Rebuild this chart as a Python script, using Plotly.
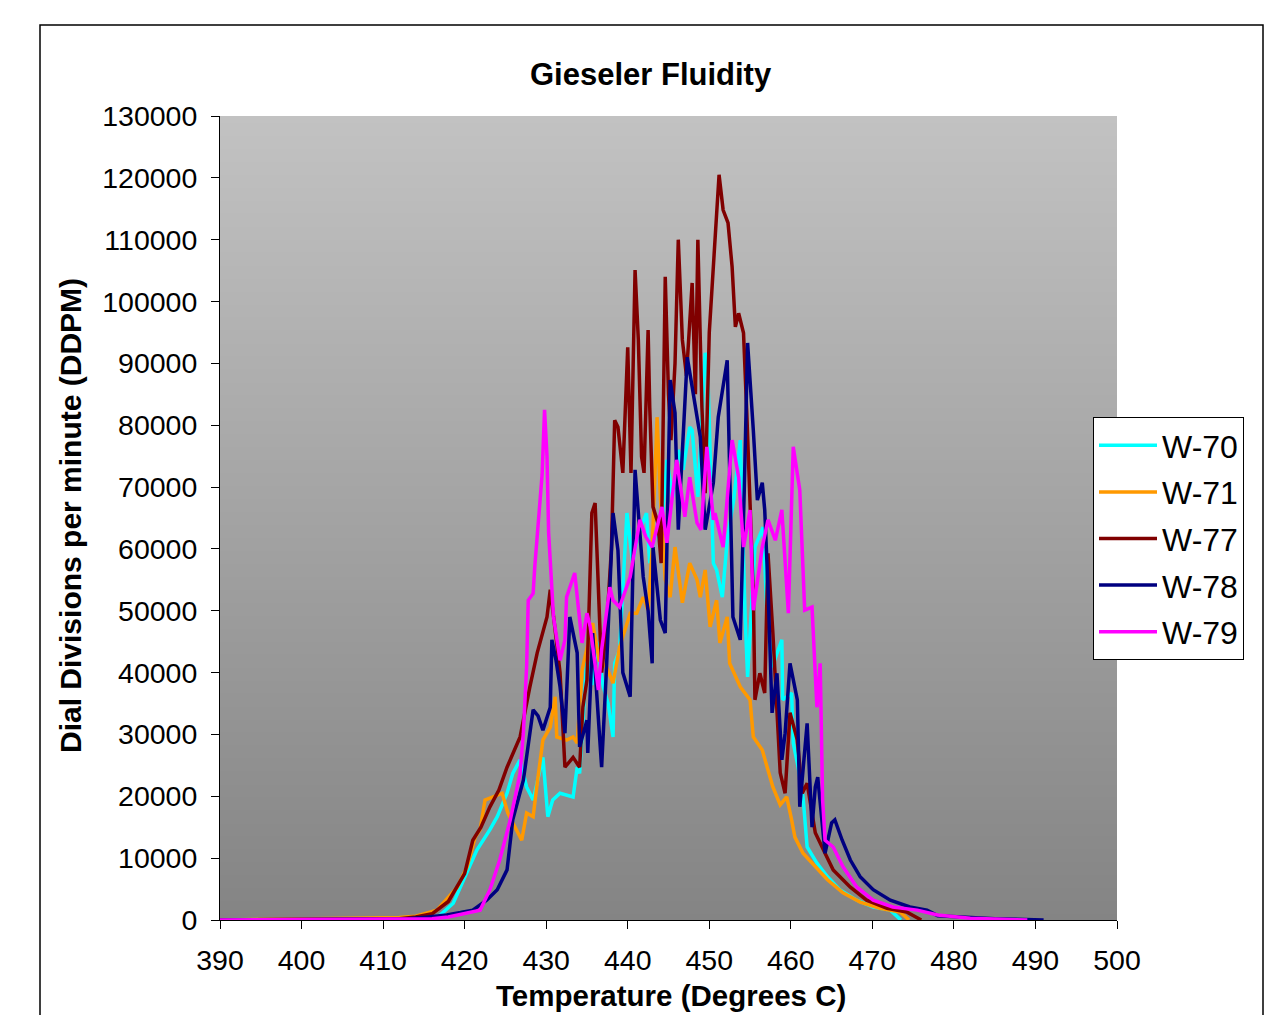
import plotly.graph_objects as go
import numpy as np

# ---------------- data ----------------
w70_t = [390, 410, 414, 416, 417, 418.6, 420.3, 421.5, 423.1, 424.0, 425.2, 425.9, 426.8, 427.6, 428.4, 429.6,
         430.2, 430.8, 431.7, 433.3, 433.8, 434.1, 435.0, 435.6, 436.2, 437.0, 437.6, 438.2, 438.4, 439.0, 439.9,
         440.6, 441.2, 442.3, 442.7, 443.4, 444.0, 444.8, 445.5, 446.2, 446.8, 447.6, 447.9, 448.6, 449.5, 449.8,
         450.5, 450.9, 451.6, 452.2, 453.0, 453.8, 454.4, 454.7, 455.6, 456.6, 457.1, 457.7, 458.9, 459.0, 460.1,
         460.3, 460.9, 461.5, 462.0, 463.2, 464.5, 466.0, 468.1, 470.1, 472.2, 473.5]
w70_v = [0, 0, 100, 300, 800, 2700, 7600, 11300, 14600, 16700, 20500, 23700, 25900, 21500, 19400, 26300,
         16700, 19400, 20500, 19900, 24700, 23700, 42500, 38000, 45000, 37700, 35000, 29600, 41500, 43700, 65800,
         57700, 62000, 65800, 57700, 63000, 61000, 74400, 68400, 76000, 72800, 79700, 79200, 68400, 91700, 89400,
         57700, 56600, 52200, 61400, 68000, 77600, 49000, 39300, 60300, 63500, 49000, 40900, 45300, 35600, 36700,
         28600, 24700, 19900, 11800, 9200, 7000, 4900, 3200, 2100, 1600, 0]

w71_t = [390, 410, 412, 414, 416.6, 419.1, 420.3, 421.3, 421.9, 422.5, 423.5, 424.6, 425.3, 426.2, 427.0, 427.6,
         428.4, 428.9, 429.6, 430.5, 431.1, 431.3, 432.5, 433.3, 433.8, 434.4, 435.0, 435.7, 436.5, 437.4, 438.2,
         439.0, 440.3, 441.1, 441.9, 442.5, 443.0, 443.6, 444.0, 444.6, 445.2, 445.8, 446.7, 447.6, 448.5, 448.9,
         449.5, 450.1, 450.9, 451.3, 452.2, 452.5, 453.8, 455.0, 455.4, 456.5, 457.1, 457.8, 458.7, 459.5, 460.1,
         460.5, 461.5, 463.0, 464.5, 466.4, 468.5, 470.9, 473.4, 474.5]
w71_v = [0, 300, 400, 600, 1600, 5300, 8600, 13400, 14600, 19400, 19900, 20500, 17300, 15000, 12900, 17300,
         16700, 22100, 29100, 31200, 36100, 29600, 29100, 29600, 28600, 40400, 44000, 48000, 42000, 40900, 38300,
         44100, 49600, 49600, 52200, 50100, 60000, 81300, 68400, 55000, 52200, 60300, 51300, 57700, 55000, 52200,
         56600, 47400, 51700, 44800, 49000, 41500, 37700, 35600, 29600, 27500, 24700, 21500, 18600, 19900, 16200,
         13400, 10800, 8600, 6500, 4400, 2900, 1900, 1300, 0]

w77_t = [390, 412, 414, 416, 418, 420, 421.0, 422, 423.1, 424.2, 425.2, 426.8, 428.0, 428.9, 430.1, 430.5, 431.0,
         431.7, 432.3, 433.3, 434.1, 434.5, 435.0, 435.6, 436.0, 436.4, 436.8, 437.4, 438.0, 438.4, 438.8, 439.4,
         440.0, 440.4, 440.9, 441.3, 441.7, 442.0, 442.5, 442.7, 443.1, 443.7, 444.1, 444.6, 445.0, 445.3, 445.8,
         446.2, 446.7, 447.2, 447.9, 448.3, 448.6, 449.1, 449.5, 450.0, 450.5, 451.2, 451.7, 452.3, 452.8, 453.2,
         453.6, 454.2, 454.6, 455.0, 455.4, 455.6, 456.2, 456.8, 457.2, 457.8, 458.7, 459.3, 459.9, 460.8, 461.4,
         462.0, 463.0, 464.2, 465.2, 467.3, 469.3, 471.8, 474.2, 476]
w77_v = [0, 200, 500, 1000, 3000, 7500, 12900, 15000, 18300, 21000, 24700, 29600, 37700, 43200, 49000, 53400, 48000,
         40000, 24700, 26300, 24700, 34400, 38800, 65800, 67400, 54500, 40000, 47000, 60000, 80800, 79700, 72300,
         92600, 72300, 105100, 93800, 74900, 72300, 95400, 82900, 66800, 64200, 57700, 104000, 85000, 77600, 90000,
         110000, 93800, 88000, 103000, 85000, 110000, 82900, 69000, 95000, 105600, 120500, 114800, 112700, 105600, 95900,
         98100, 94900, 82000, 66300, 52800, 35600, 39900, 36700, 59300, 46400, 23800, 20500, 33500, 29100, 20500,
         22100, 14100, 10800, 8100, 5300, 3200, 1900, 1300, 0]

w78_t = [390, 413, 415.5, 417.8, 419.5, 421.0, 422.7, 424.0, 425.2, 425.9, 427.2, 428.0, 428.4, 429.0, 429.6, 430.5,
         430.7, 431.2, 431.7, 432.3, 432.9, 433.8, 434.1, 435.0, 435.1, 435.7, 436.2, 436.8, 437.4, 438.2, 438.8,
         439.4, 440.3, 440.9, 441.9, 442.5, 443.0, 443.1, 444.0, 444.6, 445.2, 445.8, 446.2, 446.7, 447.3, 447.9,
         448.9, 449.5, 450.5, 451.1, 452.2, 452.9, 453.8, 454.3, 454.7, 455.4, 455.9, 456.5, 456.8, 457.2, 457.7,
         458.3, 458.9, 459.3, 459.9, 460.8, 461.1, 462.0, 462.6, 463.0, 463.3, 464.2, 465.0, 465.4, 466.3, 467.3,
         468.5, 470.1, 472.2, 474.6, 476.7, 478, 485, 491]
w78_v = [0, 200, 500, 800, 1200, 1600, 3200, 4900, 8100, 16200, 22600, 30200, 34000, 33000, 30700, 34400,
         45300, 42000, 37700, 30200, 49000, 43200, 28000, 32300, 27000, 46400, 36000, 24700, 40900, 65800, 59800,
         40000, 36100, 72800, 55500, 50000, 41500, 60300, 48500, 46400, 87300, 82000, 63100, 75000, 91000, 86200,
         78100, 63100, 70700, 81300, 90500, 49000, 45300, 70000, 93300, 79200, 67900, 70700, 66300, 53800, 33500,
         39900, 25900, 30200, 41500, 35600, 18300, 31800, 15000, 21500, 23100, 10800, 15700, 16200, 12900, 9700,
         7000, 4900, 3200, 2100, 1600, 700, 200, 0]

w79_t = [390, 414, 416, 418, 420, 421.9, 423.1, 424.3, 425.6, 426.8, 427.2, 427.6, 427.8, 428.4, 428.6, 429.2,
         429.5, 429.8, 430.1, 430.3, 430.6, 430.9, 431.7, 432.3, 432.5, 433.5, 434.4, 435.0, 435.4, 436.0, 436.4,
         436.8, 437.8, 438.2, 439.0, 440.3, 441.5, 442.2, 443.0, 444.2, 444.8, 446.0, 447.0, 447.6, 448.5, 449.0,
         449.7, 450.5, 450.7, 451.7, 452.8, 453.6, 454.2, 455.0, 455.4, 456.5, 457.2, 458.1, 458.9, 459.7, 460.3,
         461.1, 461.7, 462.6, 463.2, 463.6, 463.9, 464.2, 465.2, 466.4, 468.1, 470.1, 472.5, 475.5, 478, 482, 489]
w79_v = [0, 100, 200, 500, 1000, 1600, 4900, 9700, 16200, 23700, 30200, 40900, 51700, 52800, 57100, 67900,
         72000, 82500, 75000, 62600, 54500, 49000, 42000, 45300, 52200, 56100, 44800, 49600, 47400, 40900, 37200,
         43700, 53800, 51700, 50600, 55500, 64700, 62000, 60300, 66800, 61000, 74400, 65200, 71600, 64200, 63100,
         76500, 64700, 65800, 60300, 77600, 71600, 60300, 66300, 50100, 60300, 64700, 61400, 66300, 49600, 76500,
         69500, 50100, 50600, 34400, 41500, 19400, 12900, 11800, 8600, 5300, 3200, 2100, 1600, 800, 300, 0]

series_names = ["W-70", "W-71", "W-77", "W-78", "W-79"]
series_colors = ["#00FFFF", "#FF9900", "#800000", "#000080", "#FF00FF"]
series_t = [w70_t, w71_t, w77_t, w78_t, w79_t]
series_v = [w70_v, w71_v, w77_v, w78_v, w79_v]

x_ticks = [390, 400, 410, 420, 430, 440, 450, 460, 470, 480, 490, 500]
y_ticks = list(range(0, 130001, 10000))

FONT = "Liberation Sans, Arial, sans-serif"

fig = go.Figure()

# gradient plot-area background
bg_y = np.linspace(0, 130000, 60)
fig.add_trace(go.Heatmap(
    x=[390, 500], y=bg_y, z=[[v, v] for v in bg_y],
    colorscale=[[0, "#848484"], [1, "#c2c2c2"]], showscale=False,
    zsmooth="best", hoverinfo="skip", showlegend=False))

for i, (name, col, t, v) in enumerate(zip(series_names, series_colors, series_t, series_v)):
    fig.add_trace(go.Scatter(
        x=t, y=v, mode="lines", name=name, legendgroup=f"g{i}",
        line=dict(color=col, width=3.5)))

W, H = 1273, 1015
L, R, T, B = 220, 1117, 116, 920
pw, ph = R - L, B - T

def px(xp):
    return (xp - L) / pw

def py(yp):
    return (B - yp) / ph

fig.update_layout(
    width=W, height=H,
    margin=dict(l=L, r=W - R, t=T, b=H - B),
    paper_bgcolor="white",
    plot_bgcolor="#a0a0a0",
    font=dict(family=FONT, color="black"),
    showlegend=True,
    legend=dict(
        x=px(1093), y=py(417), xanchor="left", yanchor="top",
        bgcolor="white", bordercolor="black", borderwidth=1,
        font=dict(size=32, family=FONT), itemwidth=58,
        tracegroupgap=2),
    xaxis=dict(
        range=[390, 500], tickvals=x_ticks, ticktext=[str(v) for v in x_ticks],
        showgrid=False, zeroline=False, showline=True, linecolor="black", linewidth=1,
        ticks="outside", ticklen=8, tickcolor="black",
        tickfont=dict(size=28.5, family=FONT), ticklabelstandoff=7),
    yaxis=dict(
        range=[0, 130000], tickvals=y_ticks, ticktext=[str(v) for v in y_ticks],
        showgrid=True, gridcolor="#4a4a4a", gridwidth=2, zeroline=False,
        showline=True, linecolor="black", linewidth=1,
        ticks="outside", ticklen=8, tickcolor="black",
        tickfont=dict(size=28.5, family=FONT), ticklabelstandoff=8),
)

fig.add_annotation(text="<b>Gieseler Fluidity</b>", xref="paper", yref="paper",
                   x=px(651), y=py(75), xanchor="center", yanchor="middle",
                   showarrow=False, font=dict(size=31, family=FONT))
fig.add_annotation(text="<b>Temperature (Degrees C)</b>", xref="paper", yref="paper",
                   x=px(671), y=py(1014), xanchor="center", yanchor="bottom",
                   showarrow=False, font=dict(size=29.5, family=FONT))
fig.add_annotation(text="<b>Dial Divisions per minute (DDPM)</b>", xref="paper", yref="paper",
                   x=px(70), y=py(516), xanchor="center", yanchor="middle", textangle=-90,
                   showarrow=False, font=dict(size=30, family=FONT))

# outer chart frame
fig.add_shape(type="rect", xref="paper", yref="paper",
              x0=px(40), x1=px(1263), y0=py(1040), y1=py(25),
              line=dict(color="black", width=1.5), fillcolor="rgba(0,0,0,0)", layer="below")

fig.write_html("out.html")
